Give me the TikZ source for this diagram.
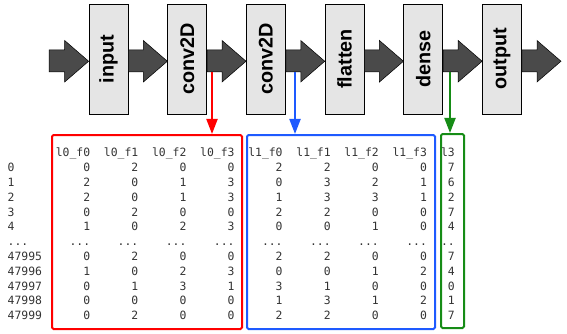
\documentclass[tikz,border=0pt]{standalone}
\usepackage{fontspec}
\setmainfont{Liberation Sans}
\newfontfamily\tablefont{DejaVu Sans Mono}
\usetikzlibrary{arrows.meta,calc}
\definecolor{flowgray}{HTML}{4A4A4A}
\definecolor{tapblue}{HTML}{1E5AFF}
\definecolor{tapgreen}{HTML}{168C16}
\newcommand{\layertext}[1]{\rotatebox{90}{#1}}

\begin{document}
\begin{tikzpicture}[x=1pt,y=-1pt,
  layer/.style={draw=black,fill=gray!20,line width=0.7pt,inner sep=0pt,
    minimum width=39pt,minimum height=110pt,font=\bfseries\fontsize{19.8}{24}\selectfont},
  flow/.style={draw=black,fill=flowgray,line width=0.5pt,
    to path={($(\tikztostart)+(0,-9)$) -- ($(\tikztotarget)+(-24,-9)$)
      -- ($(\tikztotarget)+(-24,-18.5)$) -- ($(\tikztotarget)+(0,2.25)$)
      -- ($(\tikztotarget)+(-24,23)$) -- ($(\tikztotarget)+(-24,13)$)
      -- ($(\tikztostart)+(0,13)$) -- cycle}},
  frame/.style={line width=2pt,rounded corners=1.5pt,inner sep=0pt,minimum height=194pt},
  col/.style={inner sep=0pt,text=black!80,align=right,anchor=north east,
    font=\tablefont\fontsize{11.4}{14.8}\selectfont}]
  \useasboundingbox (0,0) rectangle (567,334);

  % network
  \node[layer] (1) at (108.5,59) {\layertext{input}};
  \node[layer] (2) at (187.2,59) {\layertext{conv2D}};
  \node[layer] (3) at (265.9,59) {\layertext{conv2D}};
  \node[layer] (4) at (344.6,59) {\layertext{flatten}};
  \node[layer] (5) at (423.3,59) {\layertext{dense}};
  \node[layer] (6) at (502.0,59) {\layertext{output}};
  \coordinate (in) at (49,59);
  \coordinate (out) at (561,59);
  \foreach \s/\t in {in/1.west,1.east/2.west,2.east/3.west,3.east/4.west,
                     4.east/5.west,5.east/6.west,6.east/out}
    \draw[flow] (\s) to (\t);

  % tables
  \node[frame,draw=red,minimum width=190pt] (l0) at (147,232) {};
  \node[frame,draw=tapblue,minimum width=188pt] (l1) at (341,232) {};
  \node[frame,draw=tapgreen,minimum width=23pt] (l3) at (452.5,231) {};

  \coordinate (t0) at (212,72);
  \coordinate (t1) at (295,72);
  \coordinate (t2) at (450,72);
  \path[line width=2pt,-{Triangle[length=15pt,width=11pt]}]
  (t0) edge [red] (t0 |- l0.north)
  (t1) edge [tapblue] (t1 |- l1.north)
  (t2) edge [tapgreen] (t2 |- l3.north);

  \node[col,anchor=north west,align=left] (i) at (7.5,146.4)
    {\strut\\0\\1\\2\\3\\4\\...\\47995\\47996\\47997\\47998\\47999};
  \node[col] (a0) at (90.4,146.4)
    {\strut l0\_f0\\0\\2\\2\\0\\1\\...\\0\\1\\0\\0\\0};
  \node[col] (a1) at (138.5,146.4)
    {\strut l0\_f1\\2\\0\\0\\2\\0\\...\\2\\0\\1\\0\\2};
  \node[col] (a2) at (186.6,146.4)
    {\strut l0\_f2\\0\\1\\1\\0\\2\\...\\0\\2\\3\\0\\0};
  \node[col] (a3) at (234.7,146.4)
    {\strut l0\_f3\\0\\3\\3\\0\\3\\...\\0\\3\\1\\0\\0};
  \node[col] (b0) at (282.8,146.4)
    {\strut l1\_f0\\2\\0\\1\\2\\0\\...\\2\\0\\3\\1\\2};
  \node[col] (b1) at (330.9,146.4)
    {\strut l1\_f1\\2\\3\\3\\2\\0\\...\\2\\0\\1\\3\\2};
  \node[col] (b2) at (379.0,146.4)
    {\strut l1\_f2\\0\\2\\3\\0\\1\\...\\0\\1\\0\\1\\0};
  \node[col] (b3) at (427.1,146.4)
    {\strut l1\_f3\\0\\1\\1\\0\\0\\...\\0\\2\\0\\2\\0};
  \node[col] (c0) at (455,146.4)
    {\strut l3\\7\\6\\2\\7\\4\\..\\7\\4\\0\\1\\7};
\end{tikzpicture}
\end{document}
